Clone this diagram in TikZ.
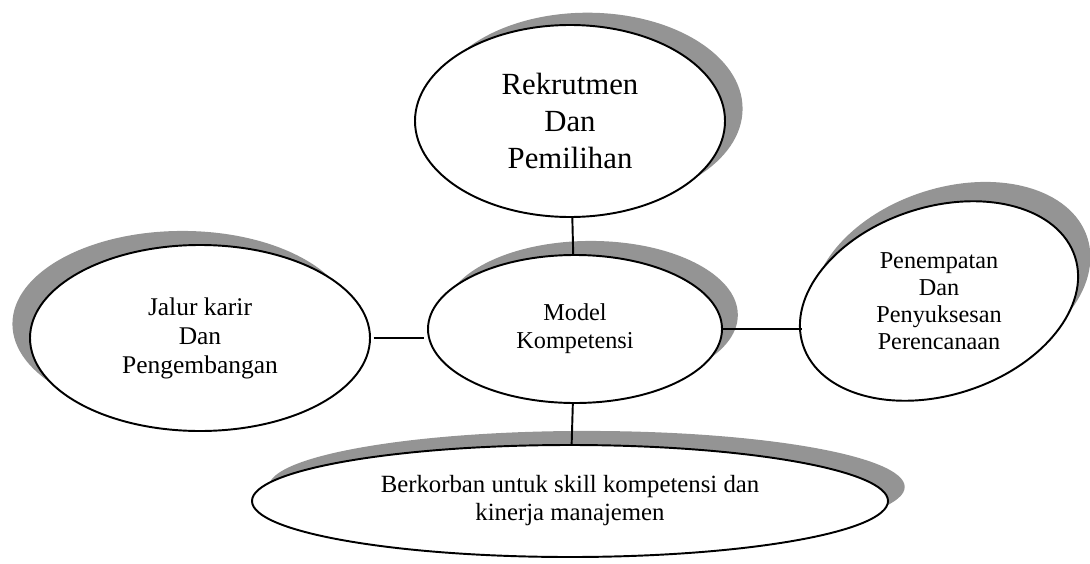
\documentclass[tikz,border=0pt]{standalone}
\usepackage{fontspec}
\setmainfont{Liberation Serif}
\usetikzlibrary{shapes.geometric,shadows}

\tikzset{
  bubble/.style={ellipse, draw, line width=1.1pt, fill=white, inner sep=0pt, align=center},
  backdrop/.style 2 args={drop shadow={shadow xshift=#1, shadow yshift=#2, fill=black!42, opacity=1}},
}

\begin{document}
\begin{tikzpicture}[line width=1.1pt]

%\draw[help lines] (0,0) grid (21.8,-11.26);
\useasboundingbox (0,0) rectangle (21.8,-11.26);

\node[bubble, backdrop={10pt}{7pt}, minimum width=6.2cm, minimum height=3.84cm,
      font=\fontsize{17.5}{21}\selectfont] (rek) at (11.4,-2.42) {Rekrutmen\\Dan\\Pemilihan};

\node[bubble, backdrop={9pt}{8pt}, minimum width=5.88cm, minimum height=2.96cm,
      font=\fontsize{13.8}{15.9}\selectfont] (mk) at (11.5,-6.58) {Model\\Kompetensi};

\node[bubble, backdrop={-10pt}{8pt}, minimum width=6.8cm, minimum height=3.72cm,
      font=\fontsize{14.5}{16.5}\selectfont] (jal) at (4.0,-6.76) {Jalur karir\\Dan\\Pengembangan};

% tilted one, text kept upright
\node[bubble, backdrop={7pt}{11pt}, rotate=18, minimum width=5.72cm, minimum height=3.76cm] (pp) at (18.78,-6.02) {};
\node[align=center, font=\fontsize{13.8}{15.4}\selectfont] (pptxt) at (pp) {Penempatan\\Dan\\Penyuksesan\\Perencanaan};

\node[bubble, backdrop={9.5pt}{8pt}, minimum width=12.72cm, minimum height=2.24cm,
      font=\fontsize{14.1}{15.9}\selectfont] (bk) at (11.4,-10.02) {Berkorban untuk skill kompetensi dan\\kinerja manajemen};

\draw (rek) -- (mk);
\draw (mk) -- (bk);
\draw[shorten <=1.5pt, shorten >=1.5pt] (jal.east) -- (jal.east -| mk.west);
\draw (mk.east) -- (mk.east -| pp.west);

\end{tikzpicture}
\end{document}
